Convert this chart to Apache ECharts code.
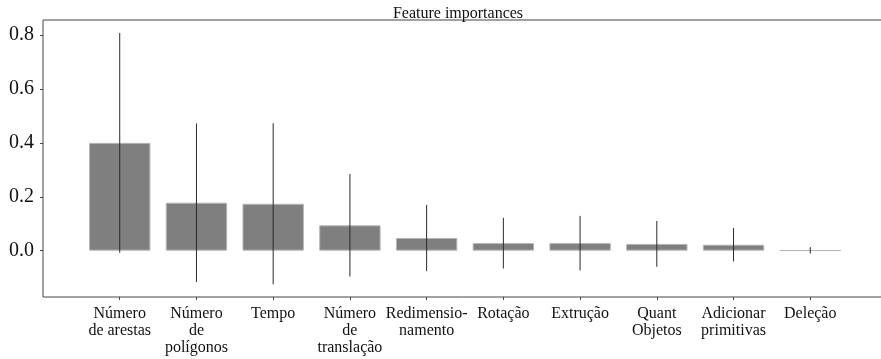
<!DOCTYPE html>
<html>
<head>
<meta charset="utf-8">
<title>Feature importances</title>
<script src="https://cdn.jsdelivr.net/npm/echarts@6/dist/echarts.min.js"></script>
<style>
  html, body { margin: 0; padding: 0; background: #ffffff; }
  #chart { width: 881px; height: 359px; }
</style>
</head>
<body>
<div id="chart"></div>
<script>
// Feature names along the x axis (line breaks as set on the axis)
const categories = [
  'Número\nde arestas',
  'Número\nde\npolígonos',
  'Tempo',
  'Número\nde\ntranslação',
  'Redimensio-\nnamento',
  'Rotação',
  'Extrução',
  'Quant\nObjetos',
  'Adicionar\nprimitivas',
  'Deleção'
];

// Mean importance of each feature
const importances = [0.400, 0.178, 0.174, 0.094, 0.047, 0.028, 0.028, 0.025, 0.022, 0.001];

// Standard deviation across trees (drawn as vertical error bars)
const errors = [0.408, 0.294, 0.299, 0.190, 0.123, 0.094, 0.101, 0.085, 0.062, 0.012];

// Labelled ticks on the y axis
const yTicks = [0.0, 0.2, 0.4, 0.6, 0.8];

const FONT = '"Liberation Serif", "DejaVu Serif", serif';

const positions = categories.map((_, i) => i);
const barData = importances.map((v, i) => [i, v]);
const errData = importances.map((v, i) => [i, v - errors[i], v + errors[i]]);

const chart = echarts.init(document.getElementById('chart'), null, { renderer: 'canvas' });

chart.setOption({
  animation: false,
  backgroundColor: '#ffffff',
  title: {
    text: 'Feature importances',
    left: 453,
    top: 1,
    textAlign: 'center',
    textStyle: { fontFamily: FONT, fontSize: 16, fontWeight: 'normal', color: '#111' }
  },
  grid: {
    left: 43,
    width: 844,
    top: 20,
    bottom: 62,
    outerBoundsMode: 'none',
    containLabel: false,
    show: true,
    borderColor: '#444',
    borderWidth: 1,
    backgroundColor: 'transparent'
  },
  xAxis: {
    type: 'value',
    min: -1,
    max: 10,
    splitLine: { show: false },
    axisLine: { show: false, onZero: false },
    axisTick: {
      show: true,
      length: 3,
      customValues: positions,
      lineStyle: { color: '#444', width: 1 }
    },
    axisLabel: {
      margin: 8,
      customValues: positions,
      fontFamily: FONT,
      fontSize: 16,
      lineHeight: 17,
      color: '#111',
      align: 'center',
      formatter: v => categories[Math.round(v)] || ''
    }
  },
  yAxis: {
    type: 'value',
    min: -0.172,
    max: 0.856,
    splitLine: { show: false },
    axisLine: { show: false, onZero: false },
    axisTick: {
      show: true,
      length: 3,
      customValues: yTicks,
      lineStyle: { color: '#444', width: 1 }
    },
    axisLabel: {
      margin: 9,
      customValues: yTicks,
      fontFamily: FONT,
      fontSize: 20,
      color: '#111',
      formatter: v => v.toFixed(1)
    }
  },
  series: [
    {
      type: 'bar',
      data: barData,
      barWidth: '80%',
      itemStyle: { color: '#7f7f7f', borderColor: '#b5b5b5', borderWidth: 1 }
    },
    {
      type: 'custom',
      data: errData,
      encode: { x: 0, y: [1, 2] },
      z: 5,
      renderItem: (params, api) => {
        const p1 = api.coord([api.value(0), api.value(1)]);
        const p2 = api.coord([api.value(0), api.value(2)]);
        return {
          type: 'line',
          shape: { x1: p1[0], y1: p1[1], x2: p2[0], y2: p2[1] },
          style: { stroke: '#2a2a2a', lineWidth: 1 }
        };
      }
    }
  ]
});
</script>
</body>
</html>
